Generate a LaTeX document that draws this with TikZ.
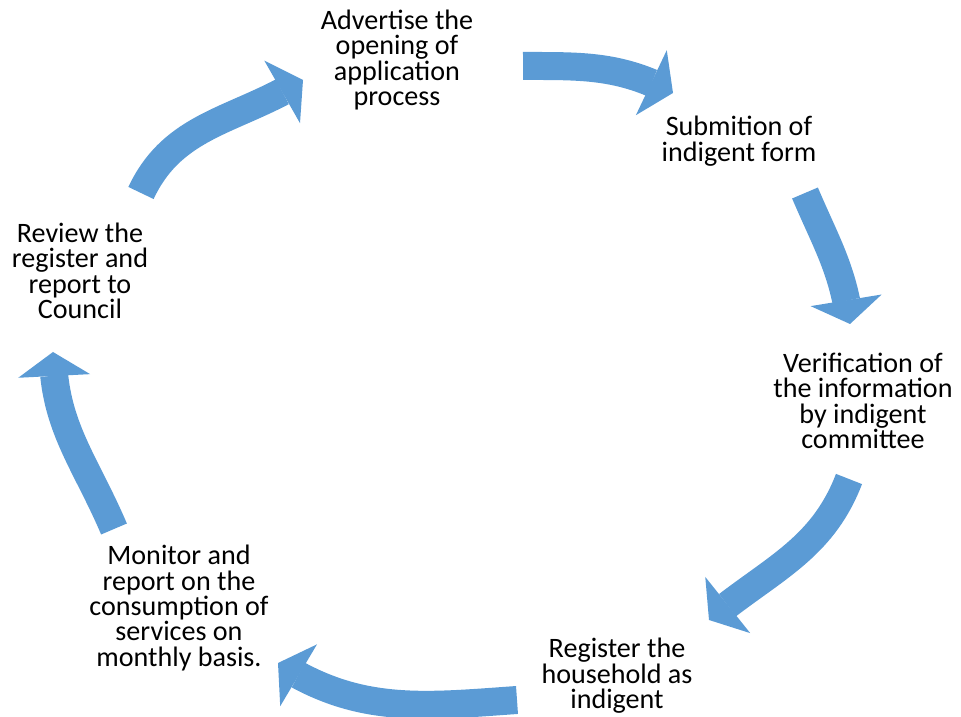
\documentclass[tikz,border=0pt]{standalone}
\usepackage{fontspec}
\setmainfont{Carlito}
\usetikzlibrary{arrows.meta,bending}
\definecolor{cycleblue}{RGB}{91,155,213}
\tikzset{step node/.style={align=center,inner sep=0pt,font=\fontsize{16}{14.5}\selectfont},
cycle arrow/.style={draw=cycleblue,line width=0.56cm,
  -{Triangle[width=1.44cm,length=0.48cm,line width=0pt,fill=cycleblue,color=cycleblue,flex]}},
}

\begin{document}
\begin{tikzpicture}[x=0.02cm,y=0.02cm]
	\useasboundingbox (0,0) rectangle (961,717);
	\node[step node] (advertise) at (397,657) {Advertise the\\opening of\\application\\process};
	\node[step node] (submit) at (739,576) {Submition of\\indigent form};
	\node[step node] (verify) at (863,316) {Verification of\\the information\\by indigent\\committee};
	\node[step node] (register) at (617,41) {Register the\\household as\\indigent};
	\node[step node] (monitor) at (179,109) {Monitor and\\report on the\\consumption of\\services on\\monthly basis.};
	\node[step node] (review) at (80,446) {Review the\\register and\\report to\\Council};
	
	% arrow ends
	\coordinate (a1) at (141,524);
	\coordinate (b1) at (303,637);
	\coordinate (a2) at (523,651);
	\coordinate (b2) at (673,624);
	\coordinate (a3) at (805,524);
	\coordinate (b3) at (850,393);
	\coordinate (a4) at (849,238);
	\coordinate (b4) at (709,97);
	\coordinate (a5) at (517,17);
	\coordinate (b5) at (278,54);
	\coordinate (a6) at (114,188);
	\coordinate (b6) at (53,365);
	
	\draw[cycle arrow] (a1) to[out=65,in=212] (b1);
	\draw[cycle arrow] (a2) to[out=0,in=152] (b2);
	\draw[cycle arrow] (a3) to[out=-67,in=97] (b3);
	\draw[cycle arrow] (a4) to[out=249,in=40] (b4);
	\draw[cycle arrow] (a5) to[out=184,in=-33] (b5);
	\draw[cycle arrow] (a6) to[out=113,in=270] (b6);
\end{tikzpicture}
\end{document}
